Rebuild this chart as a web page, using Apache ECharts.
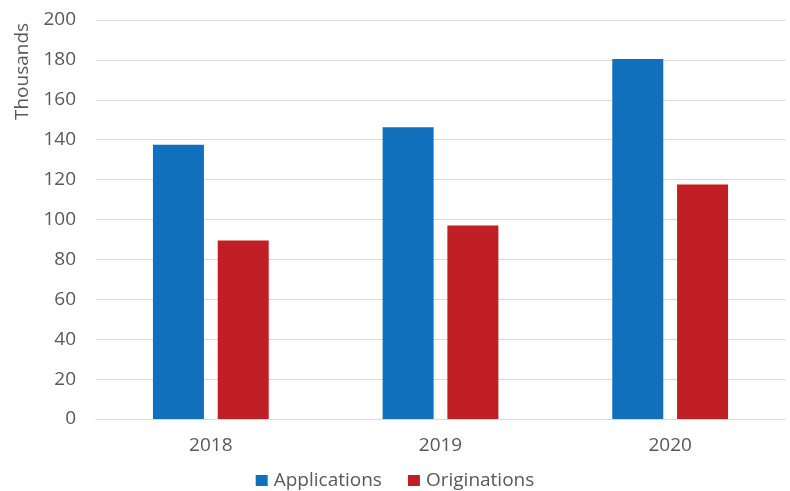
<!DOCTYPE html>
<html><head><meta charset="utf-8">
<script src="https://cdn.jsdelivr.net/npm/echarts@6/dist/echarts.min.js"></script>
<style>html,body{margin:0;padding:0;background:#fff}#c{width:790px;height:491px}</style>
</head><body><div id="c"></div>
<script>
const categories = ['2018', '2019', '2020'];
const applications = [137.5, 146.3, 180.5];
const originations = [89.5, 97, 117.5];
const yTicks = [0, 20, 40, 60, 80, 100, 120, 140, 160, 180, 200];

const FONT = 'Open Sans';
const chart = echarts.init(document.getElementById('c'));
chart.setOption({
  animation: false,
  textStyle: { fontFamily: FONT },
  grid: { left: 96, right: 5, top: 20, bottom: 72 },
  legend: {
    bottom: -4, left: 'center',
    icon: 'rect', itemWidth: 12, itemHeight: 11, itemGap: 26,
    textStyle: { fontFamily: FONT, fontSize: 19, color: '#595959', padding: [0, 0, 0, 1] },
    data: ['Applications', 'Originations']
  },
  graphic: [{
    type: 'text', x: 23, y: 71.5, rotation: Math.PI / 2,
    style: { text: 'Thousands', font: '19px "' + FONT + '"', fill: '#595959', align: 'center', verticalAlign: 'middle' }
  }],
  xAxis: {
    type: 'category', data: categories,
    axisLine: { lineStyle: { color: '#d9d9d9', width: 1 } },
    axisTick: { show: false },
    axisLabel: { fontSize: 19, color: '#595959', margin: 17, fontFamily: FONT }
  },
  yAxis: {
    type: 'value', min: yTicks[0], max: yTicks[yTicks.length - 1], interval: 20,
    axisLine: { show: false }, axisTick: { show: false },
    axisLabel: { fontSize: 19, color: '#595959', margin: 20, fontFamily: FONT },
    splitLine: { lineStyle: { color: '#d9d9d9', width: 1 } }
  },
  series: [
    { name: 'Applications', type: 'bar', data: applications, barWidth: 51, barGap: '27%',
      itemStyle: { color: '#1170BB' } },
    { name: 'Originations', type: 'bar', data: originations, barWidth: 51,
      itemStyle: { color: '#C01F26' } }
  ]
});
</script></body></html>
